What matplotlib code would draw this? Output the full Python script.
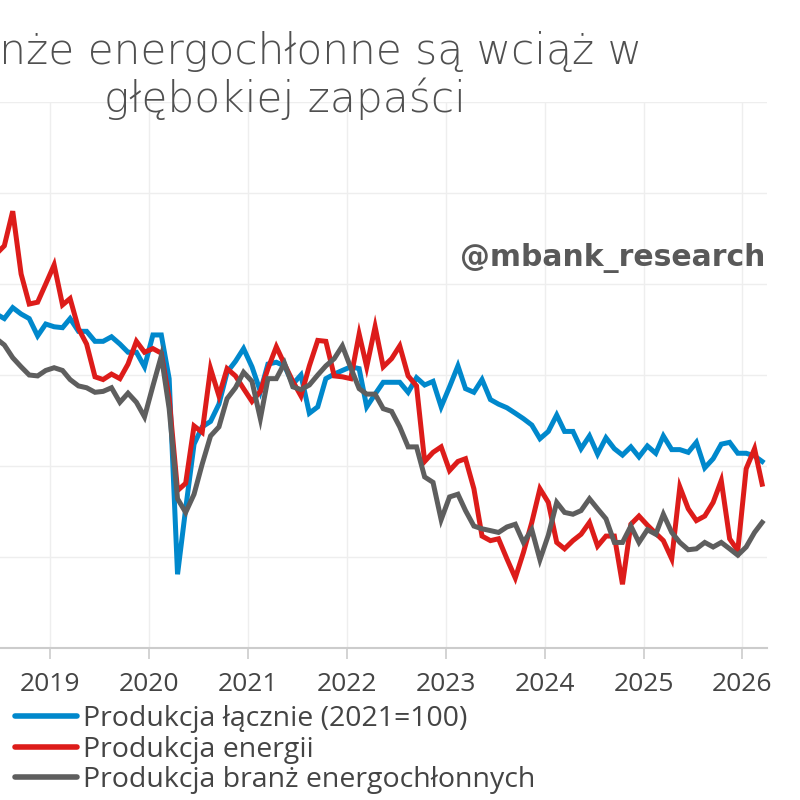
import matplotlib
matplotlib.use("Agg")
import matplotlib.pyplot as plt
import pandas as pd
import numpy as np

# Monthly data, June 2018 .. March 2026
months = pd.date_range("2018-06-01", periods=94, freq="MS") + pd.Timedelta(days=14)

total = [106.7, 106.2, 107.4, 106.7, 106.2, 104.3, 105.6,
         105.3, 105.2, 106.2, 104.8, 104.8, 103.7, 103.7, 104.2, 103.4, 102.5, 102.5, 100.9,
         104.4, 104.4, 99.6, 78.1, 85.3, 92.4, 94.3, 94.9, 96.8, 100.3, 101.5, 102.9,
         100.9, 98.2, 101.2, 101.4, 101.0, 99.0, 100.0, 95.8, 96.5, 99.6, 100.1, 100.5,
         100.9, 100.7, 96.5, 97.9, 99.2, 99.2, 99.2, 98.1, 99.7, 98.9, 99.3, 96.5,
         98.7, 101.0, 98.5, 98.1, 99.5, 97.3, 96.8, 96.4, 95.8, 95.2, 94.5, 93.0,
         93.8, 95.6, 93.8, 93.8, 91.9, 93.3, 91.3, 93.1, 91.9, 91.2, 92.1, 91.0,
         92.2, 91.4, 93.3, 91.8, 91.8, 91.5, 92.6, 89.8, 90.8, 92.4, 92.6, 91.4,
         91.4, 91.1, 90.5]

energy = [113.3, 114.2, 118.0, 111.1, 107.8, 108.0, 110.0,
          112.1, 107.7, 108.4, 105.1, 103.4, 99.8, 99.5, 100.1, 99.6, 101.2, 103.7, 102.5,
          102.9, 102.4, 97.4, 87.3, 88.1, 94.4, 93.7, 100.7, 97.7, 100.7, 99.9, 98.5,
          97.1, 98.2, 100.7, 103.1, 101.2, 99.3, 97.7, 101.0, 103.8, 103.7, 99.9, 99.8,
          99.6, 104.5, 100.9, 105.3, 100.9, 101.8, 103.2, 99.9, 98.8, 90.5, 91.5, 92.1,
          89.5, 90.5, 90.8, 87.5, 82.3, 81.8, 82.0, 79.8, 77.7, 80.5, 83.8, 87.5,
          86.0, 81.6, 80.9, 81.8, 82.5, 83.8, 81.2, 82.3, 82.3, 77.0, 83.6, 84.5,
          83.5, 82.6, 81.8, 79.8, 87.7, 85.3, 84.0, 84.5, 86.0, 88.4, 82.0, 80.7,
          89.7, 91.9, 88.0]

intensive = [104.0, 103.3, 101.9, 100.9, 100.0, 99.9, 100.5,
             100.8, 100.5, 99.5, 98.8, 98.6, 98.1, 98.2, 98.6, 97.0, 98.0, 97.0, 95.4,
             98.8, 102.1, 96.3, 86.4, 84.9, 86.9, 90.2, 93.3, 94.3, 97.4, 98.6, 100.3,
             99.3, 95.2, 99.6, 99.6, 101.3, 98.7, 98.4, 98.9, 100.0, 101.0, 101.8, 103.2,
             100.8, 98.5, 97.9, 97.9, 96.3, 96.0, 94.3, 92.1, 92.1, 88.8, 88.2, 84.1,
             86.6, 86.9, 85.1, 83.4, 83.1, 82.9, 82.7, 83.3, 83.6, 81.6, 83.0, 79.7,
             82.4, 86.0, 84.9, 84.7, 85.1, 86.4, 85.3, 84.2, 81.6, 81.6, 83.4, 81.6,
             83.0, 82.5, 84.7, 82.7, 81.6, 80.8, 80.9, 81.6, 81.1, 81.6, 80.9, 80.2,
             81.1, 82.7, 83.8]

labels = ["Produkcja łącznie (2021=100)", "Produkcja energii",
          "Produkcja branż energochłonnych"]
colors = ["#0088CC", "#DD1C1A", "#5E5E5E"]
title = "Branże energochłonne są wciąż w\ngłębokiej zapaści"
watermark = "@mbank_research"
year_ticks = list(range(2019, 2027))

plt.rcParams["font.family"] = ["Open Sans", "DejaVu Sans"]

fig = plt.figure(figsize=(8, 8), dpi=100)
ax = fig.add_axes([0.0, 0.19, 767 / 800, 0.6825])

for series, lab, col in zip([total, energy, intensive], labels, colors):
    ax.plot(months, series, color=col, lw=3.6, label=lab, solid_joinstyle="miter")

ax.set_ylim(70, 130)
ax.set_yticks(np.arange(70, 131, 10))
ax.set_xlim(pd.Timestamp("2018-06-29"), pd.Timestamp("2026-04-02"))
ax.set_xticks([pd.Timestamp(f"{y}-01-01") for y in year_ticks])
ax.set_xticklabels([str(y) for y in year_ticks])
ax.grid(True, color="#eeeeee", lw=1)
ax.set_axisbelow(True)
for s in ["top", "right", "left"]:
    ax.spines[s].set_visible(False)
ax.spines["bottom"].set_color("#cccccc")
ax.spines["bottom"].set_linewidth(1.5)
ax.tick_params(axis="x", length=8, width=1.2, color="#cccccc", pad=9,
               labelsize=19, labelcolor="#444444")
ax.tick_params(axis="y", left=False, labelleft=False)

fig.text(765 / 800, 1 - 258 / 800, watermark, ha="right", va="center",
         fontsize=21.5, fontweight="bold", color="#595959", family="DejaVu Sans")

fig.text(285 / 800, 1 - 112 / 800, title, ha="center", va="baseline",
         fontsize=30.4, color="#505050", fontweight="light", linespacing=1.17,
         family=["DejaVu Sans"])

leg = fig.legend(loc="upper left", bbox_to_anchor=(15 / 800, 1 - 705 / 800),
                 frameon=False, fontsize=20.5, handlelength=2.18,
                 handletextpad=0.2, labelspacing=0.09, borderaxespad=0,
                 borderpad=0)
for t in leg.get_texts():
    t.set_color("#444444")
for l in leg.get_lines():
    l.set_linewidth(4)
    l.set_solid_capstyle("round")

fig.savefig("out.png", dpi=100)
